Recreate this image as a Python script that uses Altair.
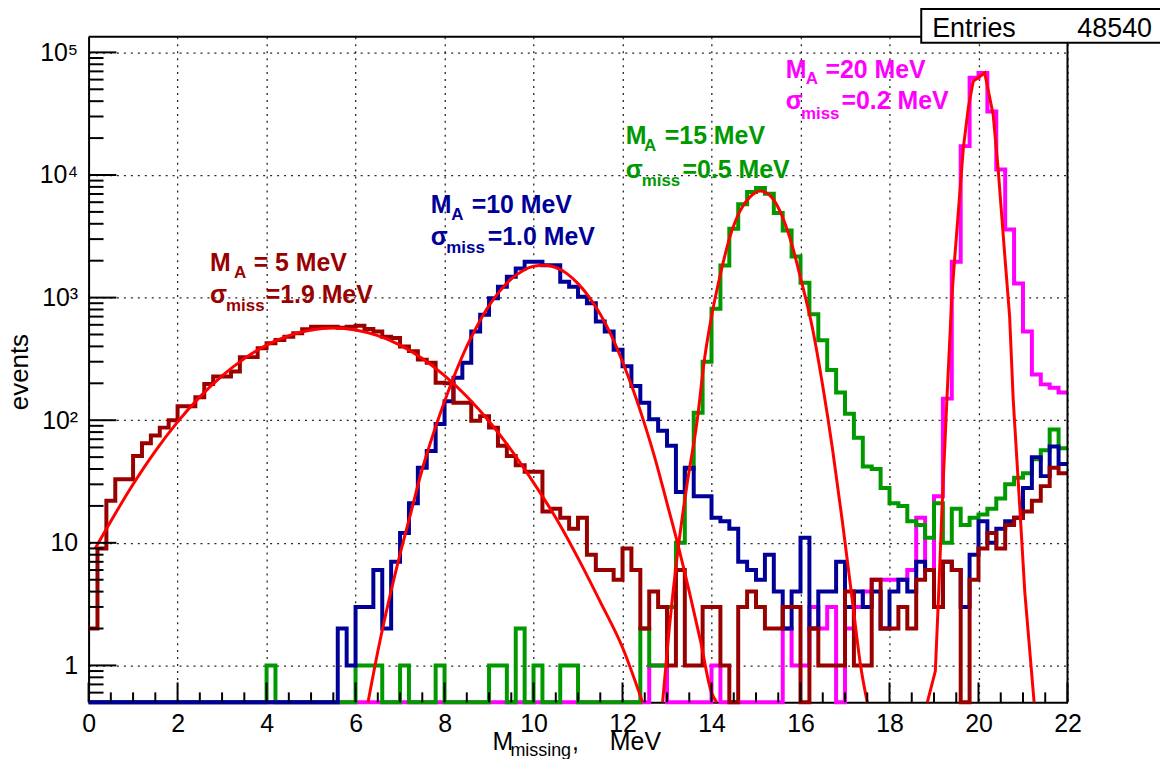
import altair as alt
import pandas as pd

# ------------------------------------------------------------------ data
BIN_WIDTH = 0.2          # MeV per bin, 110 bins from 0 to 22 MeV

# M_A = 5 MeV (dark red)
m5_counts = [
    2, 9, 22, 33, 33, 51, 65, 75, 87, 100,
    130, 130, 154, 197, 227, 227, 250, 327, 327, 386,
    425, 452, 479, 511, 551, 578, 578, 578, 568, 578,
    589, 555, 528, 479, 468, 400, 366, 312, 294, 202,
    200, 139, 139, 99, 108, 87, 62, 51, 43, 38,
    38, 18, 19, 16, 13, 16, 8, 6, 6, 5,
    9, 6, 2, 4, 3, 1, 6, 1, 1, 3,
    3, 1, 0, 3, 4, 3, 2, 2, 3, 3,
    0, 2, 1, 1, 1, 4, 1, 1, 5, 2,
    2, 3, 2, 5, 6, 3, 7, 6, 0, 5,
    9, 12, 9, 14, 16, 18, 22, 29, 41, 37,
]

# M_A = 10 MeV (dark blue)
m10_counts = [
    0, 0, 0, 0, 0, 0, 0, 0, 0, 0,
    0, 0, 0, 0, 0, 0, 0, 0, 0, 0,
    0, 0, 0, 0, 0, 0, 0, 0, 2, 1,
    3, 3, 6, 2, 7, 12, 21, 41, 56, 93,
    143, 222, 294, 530, 724, 988, 1228, 1479, 1729, 1959,
    1959, 1840, 1840, 1349, 1228, 1018, 900, 639, 530, 376,
    276, 190, 139, 102, 82, 62, 26, 41, 24, 24,
    16, 15, 13, 7, 6, 5, 8, 4, 2, 4,
    11, 2, 4, 4, 7, 3, 4, 3, 4, 2,
    4, 5, 4, 7, 6, 3, 7, 6, 3, 8,
    15, 10, 13, 15, 16, 28, 50, 35, 61, 44,
]

# M_A = 15 MeV (green)
m15_counts = [
    0, 0, 0, 0, 0, 0, 0, 0, 0, 0,
    0, 0, 0, 0, 0, 0, 0, 0, 0, 0,
    1, 0, 0, 0, 0, 0, 0, 0, 0, 0,
    1, 1, 1, 0, 0, 1, 0, 0, 0, 1,
    0, 0, 0, 0, 0, 1, 1, 0, 2, 0,
    1, 0, 0, 1, 1, 0, 0, 0, 0, 0,
    0, 0, 2, 1, 1, 3, 10, 40, 115, 300,
    810, 1830, 3646, 5770, 7260, 7850, 7020, 4900, 3530, 2160,
    1321, 733, 449, 257, 168, 113, 72, 42, 40, 28,
    21, 20, 15, 14, 11, 21, 10, 19, 14, 16,
    17, 19, 23, 30, 34, 37, 48, 57, 84, 59,
]

# M_A = 20 MeV (magenta)
m20_counts = [
    0, 0, 0, 0, 0, 0, 0, 0, 0, 0,
    0, 0, 0, 0, 0, 0, 0, 0, 0, 0,
    0, 0, 0, 0, 0, 0, 0, 0, 0, 0,
    0, 0, 0, 0, 0, 0, 0, 0, 0, 0,
    0, 0, 0, 0, 0, 0, 0, 0, 0, 0,
    0, 0, 0, 0, 0, 0, 0, 0, 0, 0,
    0, 0, 0, 1, 1, 0, 0, 0, 0, 0,
    1, 0, 0, 0, 0, 0, 0, 0, 2, 1,
    1, 3, 2, 3, 0, 2, 3, 4, 5, 5,
    5, 5, 6, 16, 6, 24, 150, 1960, 17200, 62000,
    68000, 33000, 11100, 3600, 1306, 530, 236, 196, 184, 168,
]

# red fit curves
fit5_x = [0.15, 0.5, 1.0, 1.5, 2.0, 2.5, 3.0, 3.5, 4.0, 4.5, 5.0, 5.5, 6.0,
          6.5, 7.0, 7.5, 8.0, 8.5, 9.0, 9.5, 10.0, 10.5, 11.0, 11.5, 12.0, 12.45]
fit5_y = [9, 15, 30, 56, 97, 155, 230, 318, 410, 490, 545, 565, 545,
          490, 410, 319, 231, 156, 98, 57, 31, 16, 7.5, 3.3, 1.4, 0.5]

fit10_x = [6.28, 6.5, 6.75, 7.0, 7.25, 7.5, 7.75, 8.0, 8.25, 8.5, 8.75, 9.0,
           9.25, 9.5, 9.75, 10.0, 10.25, 10.5, 10.75, 11.0, 11.25, 11.5, 11.75,
           12.0, 12.25, 12.5, 12.75, 13.0, 13.25, 13.5, 13.75, 14.0, 14.12]
fit10_y = [0.5, 1.3, 3.4, 8.1, 18, 40, 78, 142, 246, 400, 604, 860,
           1140, 1420, 1650, 1800, 1840, 1760, 1570, 1300, 1010, 730, 490,
           300, 172, 92, 46, 21, 9.5, 4, 1.6, 0.6, 0.5]

fit15_x = [12.9, 13.05, 13.25, 13.45, 13.67, 13.85, 14.0, 14.2, 14.41, 14.63,
           14.86, 15.1, 15.35, 15.6, 15.82, 16.0, 16.27, 16.5, 16.72, 16.94,
           17.16, 17.35, 17.5]
fit15_y = [0.5, 2, 9, 30, 95, 330, 700, 1550, 3100, 5000,
           6600, 7400, 6600, 4500, 2600, 1450, 560, 190, 58, 15,
           3.5, 1, 0.5]

fit20_x = [18.85, 19.03, 19.1, 19.18, 19.29, 19.4, 19.47, 19.66, 19.77, 19.88,
           20.14, 20.33, 20.44, 20.6, 20.7, 20.78, 20.93, 21.04, 21.25]
fit20_y = [0.5, 0.9, 3.5, 19, 148, 1000, 2200, 16700, 35000, 58000,
           68000, 31000, 11400, 2000, 700, 148, 19, 4, 0.5]

# tick positions and labels
x_major_ticks = [0, 2, 4, 6, 8, 10, 12, 14, 16, 18, 20, 22]
y_major_ticks = [1, 10, 100, 1000, 10000, 100000]
y_tick_labels = ["1", "10", "10²", "10³", "10⁴", "10⁵"]

# annotation texts (label pieces) and their anchor in data units
ann_text = ["M", "A", "= 5 MeV", "σ", "miss", "=1.9 MeV",
            "M", "A", "=10 MeV", "σ", "miss", "=1.0 MeV",
            "M", "A", "=15 MeV", "σ", "miss", "=0.5 MeV",
            "M", "A", "=20 MeV", "σ", "miss", "=0.2 MeV"]
ann_is_sub = [0, 1, 0, 0, 1, 0] * 4
ann_group = ["m5"] * 6 + ["m10"] * 6 + ["m15"] * 6 + ["m20"] * 6
ann_x = [2.73, 3.27, 3.71, 2.73, 3.09, 3.98,
         7.69, 8.15, 8.61, 7.69, 8.04, 8.97,
         12.07, 12.48, 12.95, 12.07, 12.43, 13.35,
         15.67, 16.12, 16.56, 15.67, 16.01, 16.92]
ann_y = [1640, 1438, 1640, 902, 776, 902,
         4930, 4325, 4930, 2667, 2296, 2667,
         17870, 15700, 17870, 9480, 8170, 9480,
         61400, 54900, 61400, 34400, 28500, 34400]

entries_value = "48540"

# ------------------------------------------------------------------ style
FONT = "Liberation Sans"
W, H = 984, 669
Y_MIN, Y_MAX = 0.5, 134000
X_MAX = 22
COLORS = {"m5": "#990000", "m10": "#000099", "m15": "#009900", "m20": "#ff00ff"}
FIT_COLOR = "#ff0000"

xscale = alt.Scale(domain=[0, X_MAX], nice=False, zero=False)
yscale = alt.Scale(type="log", domain=[Y_MIN, Y_MAX], nice=False)

label_expr = ""
for v, s in sorted(zip(y_major_ticks, y_tick_labels), reverse=True):
    label_expr += f"datum.value >= {v * 0.999} ? '{s}' : "
label_expr += "''"

common_axis = dict(
    title=None, grid=True, gridColor="#000000", gridDash=[2, 5], gridWidth=1.3,
    gridOpacity=0.85, ticks=False, domain=True, domainColor="#000000",
    domainWidth=2, labelFont=FONT, labelFontSize=25, labelColor="#000000",
    labelFlush=False, labelOverlap=False,
)
x_axis = alt.Axis(values=x_major_ticks, labelPadding=9, **common_axis)
y_axis = alt.Axis(values=y_major_ticks, labelPadding=11, labelExpr=label_expr,
                  **common_axis)


def X():
    return alt.X("x:Q", scale=xscale, axis=x_axis)


def Y():
    return alt.Y("y:Q", scale=yscale, axis=y_axis)


def hist_df(counts):
    xs = [BIN_WIDTH * i for i in range(len(counts) + 1)]
    ys = [max(c, Y_MIN) for c in counts] + [max(counts[-1], Y_MIN)]
    return pd.DataFrame({"x": xs, "y": ys})


one = pd.DataFrame({"k": [0]})
layers = []

# histograms (bottom to top)
for counts, key in [(m20_counts, "m20"), (m15_counts, "m15"),
                    (m10_counts, "m10"), (m5_counts, "m5")]:
    layers.append(
        alt.Chart(hist_df(counts)).mark_line(
            interpolate="step-after", color=COLORS[key], strokeWidth=4,
            strokeJoin="miter"
        ).encode(x=X(), y=Y())
    )

# fits
for fx, fy, interp in [(fit5_x, fit5_y, "monotone"), (fit10_x, fit10_y, "monotone"),
                       (fit15_x, fit15_y, "monotone"), (fit20_x, fit20_y, "linear")]:
    layers.append(
        alt.Chart(pd.DataFrame({"x": fx, "y": fy})).mark_line(
            color=FIT_COLOR, strokeWidth=3, interpolate=interp
        ).encode(x=X(), y=Y())
    )

# inside ticks
x_minor = [i * 0.5 for i in range(45) if i % 4 != 0]
y_minor = [m * 10 ** e for e in range(-1, 5) for m in range(2, 10)
           if Y_MIN < m * 10 ** e < Y_MAX]
layers.append(alt.Chart(pd.DataFrame({"x": x_major_ticks})).mark_rule(
    color="black", strokeWidth=2).encode(x=X(), y=alt.value(H), y2=alt.value(H - 20)))
layers.append(alt.Chart(pd.DataFrame({"x": x_minor})).mark_rule(
    color="black", strokeWidth=2).encode(x=X(), y=alt.value(H), y2=alt.value(H - 10)))
layers.append(alt.Chart(pd.DataFrame({"y": y_major_ticks})).mark_rule(
    color="black", strokeWidth=2).encode(y=Y(), x=alt.value(0), x2=alt.value(28)))
layers.append(alt.Chart(pd.DataFrame({"y": y_minor})).mark_rule(
    color="black", strokeWidth=2).encode(y=Y(), x=alt.value(0), x2=alt.value(15)))

# frame top / right
layers.append(alt.Chart(one).mark_rule(color="black", strokeWidth=2).encode(
    x=alt.value(0), x2=alt.value(W), y=alt.value(0)))
layers.append(alt.Chart(one).mark_rule(color="black", strokeWidth=2).encode(
    x=alt.value(W), y=alt.value(0), y2=alt.value(H)))

# annotations
ann_df = pd.DataFrame({
    "x": ann_x, "y": ann_y, "text": ann_text,
    "color": [COLORS[g] for g in ann_group],
    "size": [17 if s else 25 for s in ann_is_sub],
})
layers.append(alt.Chart(ann_df).mark_text(
    font=FONT, fontWeight="bold", align="left", baseline="alphabetic"
).encode(x=X(), y=Y(), text="text:N",
         color=alt.Color("color:N", scale=None),
         size=alt.Size("size:Q", scale=None)))

# stats box
layers.append(alt.Chart(one).mark_rect(fill="white", stroke="black", strokeWidth=2).encode(
    x=alt.value(837), x2=alt.value(1110), y=alt.value(-28), y2=alt.value(6)))


def label(text, x, y, size, align="left", angle=0):
    return alt.Chart(one).mark_text(
        text=text, font=FONT, fontSize=size, align=align, baseline="alphabetic",
        color="black", angle=angle
    ).encode(x=alt.value(x), y=alt.value(y))


layers.append(label("Entries", 848, 0, 27))
layers.append(label(entries_value, 1069, 0, 27, align="right"))

# axis titles
layers.append(label("events", -61, 337, 26, align="center", angle=270))
layers.append(label("M", 406, 717, 25))
layers.append(label("missing", 424, 723, 18))
layers.append(label(",", 486, 717, 25))
layers.append(label("MeV", 524, 717, 25))

chart = alt.layer(*layers).properties(
    width=W, height=H,
    autosize=alt.AutoSizeParams(type="none"),
    padding={"left": 81, "top": 27, "right": 93, "bottom": 55},
).configure(font=FONT).configure_view(stroke="transparent")

chart.save("out.html", embed_options={"renderer": "svg", "actions": False})
